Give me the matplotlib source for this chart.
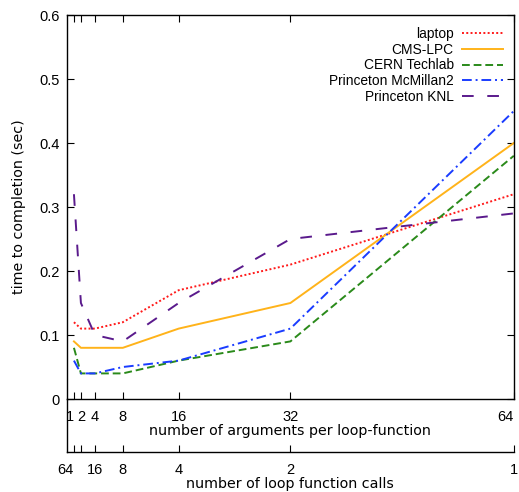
import matplotlib
matplotlib.use("Agg")
import matplotlib.pyplot as plt

# number of arguments per loop-function
args = [1, 2, 4, 8, 16, 32, 64]
# number of loop function calls, shown on the lower axis
calls_labels = ["64", "", "16", "8", "4", "2", "1"]

laptop = [0.12, 0.11, 0.11, 0.12, 0.17, 0.21, 0.32]
cms_lpc = [0.09, 0.08, 0.08, 0.08, 0.11, 0.15, 0.40]
cern = [0.08, 0.04, 0.04, 0.04, 0.06, 0.09, 0.38]
mcmillan = [0.06, 0.04, 0.04, 0.05, 0.06, 0.11, 0.45]
knl = [0.32, 0.15, 0.10, 0.09, 0.15, 0.25, 0.29]

plt.rcParams['font.family'] = 'DejaVu Sans'
plt.rcParams['font.size'] = 10.3

tickfont = {'family': 'Liberation Sans', 'size': 10.5}

fig = plt.figure(figsize=(5.19, 4.92), dpi=100)
ax = fig.add_axes([0.129, 0.189, 0.861, 0.7805])

lw = 1.4
ax.plot(args, laptop, color='#ff1a1a', linestyle=(0, (1, 1.2)), lw=lw, label='laptop')
ax.plot(args, cms_lpc, color='#ffb31a', linestyle='-', lw=lw, label='CMS-LPC')
ax.plot(args, cern, color='#2a8a1a', linestyle=(0, (4, 2)), lw=lw, label='CERN Techlab')
ax.plot(args, mcmillan, color='#1a3cff', linestyle=(0, (5, 2, 1, 2)), lw=lw, label='Princeton McMillan2')
ax.plot(args, knl, color='#5a1a8c', linestyle=(0, (6, 7)), lw=lw, label='Princeton KNL')

ax.set_xlim(0, 64)
ax.set_ylim(0, 0.6)
ax.set_xticks(args)
xl = ax.set_xticklabels([str(a) for a in args], fontdict=tickfont)
xl[0].set_horizontalalignment('right')
xl[-1].set_horizontalalignment('right')
ax.set_yticks([0, 0.1, 0.2, 0.3, 0.4, 0.5, 0.6])
ax.set_yticklabels(['0', '0.1', '0.2', '0.3', '0.4', '0.5', '0.6'], fontdict=tickfont)
ax.tick_params(direction='in', length=5, width=0.8, top=True, right=True)
ax.tick_params(axis='x', pad=8)
ax.tick_params(axis='y', pad=5)
ax.set_xlabel('number of arguments per loop-function', labelpad=0)
ax.set_ylabel('time to completion (sec)', labelpad=10)
for s in ax.spines.values():
    s.set_linewidth(1.0)

leg = ax.legend(loc='upper right', frameon=False, markerfirst=False,
                prop={'family': 'Liberation Sans', 'size': 9.9},
                handlelength=3.0, handletextpad=0.6, labelspacing=0.12,
                borderaxespad=0.2, bbox_to_anchor=(0.995, 0.99))

# lower axis for number of loop function calls
ax2 = fig.add_axes([0.129, 0.0813, 0.861, 0.1077])
ax2.patch.set_alpha(0)
ax2.set_xlim(0, 64)
ax2.set_ylim(0, 1)
ax2.set_xticks(args)
cl = ax2.set_xticklabels(calls_labels, fontdict=tickfont)
cl[0].set_horizontalalignment('right')
ax2.set_yticks([])
ax2.spines['top'].set_visible(False)
ax2.spines['right'].set_visible(False)
ax2.spines['left'].set_linewidth(1.0)
ax2.spines['bottom'].set_linewidth(1.0)
ax2.tick_params(axis='x', direction='in', length=5, width=0.8, pad=8)
ax2.set_xlabel('number of loop function calls', labelpad=0)

fig.savefig('out.png', dpi=100)
